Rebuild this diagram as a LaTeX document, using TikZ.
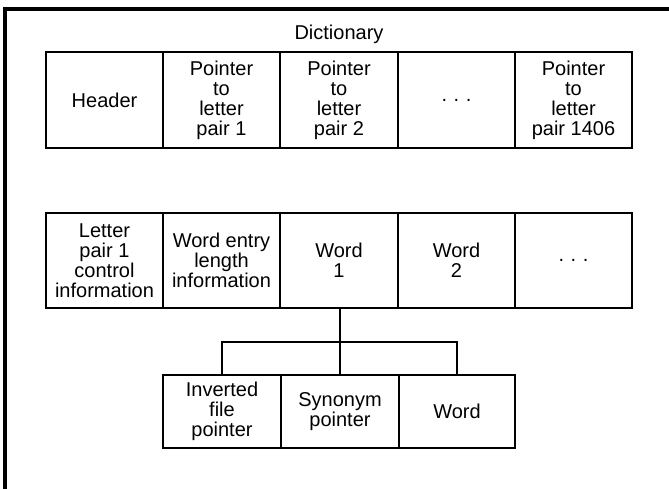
\documentclass[tikz,border=0pt]{standalone}
\usepackage{fontspec}
\setmainfont{Liberation Sans}
\begin{document}
\begin{tikzpicture}[x=1pt,y=-1pt,
  cell/.style={draw=black, line width=1.6pt, rectangle, inner sep=0pt, align=center,
    font=\fontsize{20}{20}\selectfont},
  rowA/.style={cell, minimum width=117pt, minimum height=96pt},
  rowB/.style={cell, minimum width=117pt, minimum height=95pt},
  rowC/.style={cell, minimum height=73pt},
  link/.style={draw=black, line width=1.8pt},
  frame/.style={draw=black, line width=4pt}]
\useasboundingbox (0,0) rectangle (669,489);
% outer frame (top and left edges)
\coordinate (fTL) at (5,9);
\coordinate (fTR) at (669,9);
\coordinate (fBL) at (5,489);
\draw[frame] (fTR) -- (fTL) -- (fBL);
% title
\node[font=\fontsize{20}{20}\selectfont] (title) at (339,34) {Dictionary};
% row 1
\node[rowA] (h)  at (104.5,100) {Header};
\node[rowA] (p1) at (221.5,100) {Pointer\\to\\letter\\pair 1};
\node[rowA] (p2) at (339,100)   {Pointer\\to\\letter\\pair 2};
\node[rowA] (pd) at (456.5,100) {.\,\,.\,\,.};
\node[rowA] (pn) at (573.5,100) {Pointer\\to\\letter\\pair 1406};
% row 2
\node[rowB] (lc) at (104.5,260.5) {Letter\\pair 1\\control\\information};
\node[rowB] (wl) at (221.5,260.5) {Word entry\\length\\information};
\node[rowB] (w1) at (339,260.5)   {Word\\1};
\node[rowB] (w2) at (456.5,260.5) {Word\\2};
\node[rowB] (wd) at (573.5,260.5) {.\,\,.\,\,.};
% row 3
\node[rowC, minimum width=118pt] (inv) at (222,411.5) {Inverted\\file\\pointer};
\node[rowC, minimum width=118pt] (syn) at (340,411.5) {Synonym\\pointer};
\node[rowC, minimum width=116pt] (wrd) at (457,411.5) {Word};
% tree
\coordinate (junc) at (340,342);
\draw[link] (w1.south -| junc) -- (junc);
\draw[link] (inv.north) |- (junc) -| (wrd.north);
\draw[link] (junc) -- (syn.north);
\end{tikzpicture}
\end{document}
